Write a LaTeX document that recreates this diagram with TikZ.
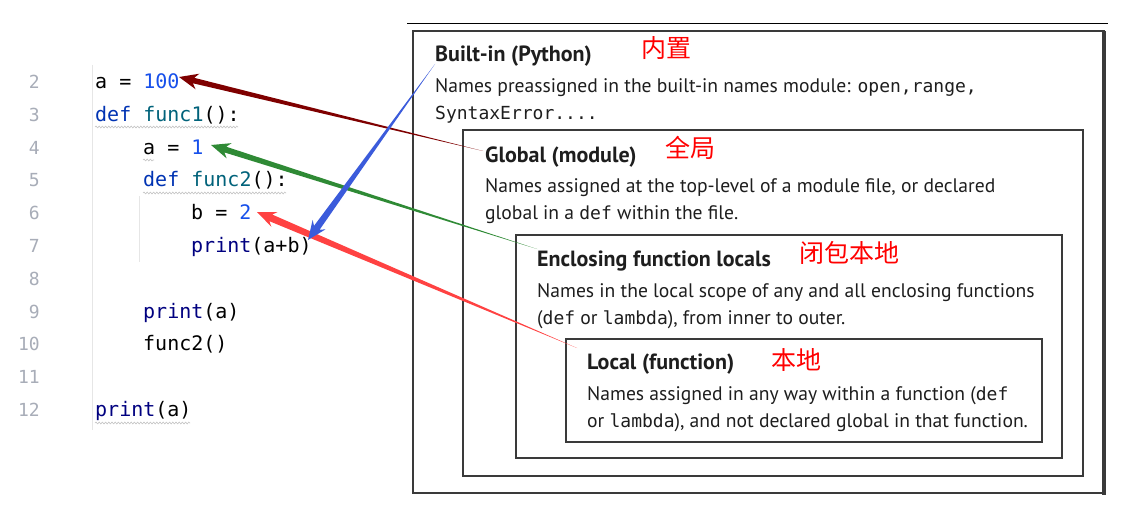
\documentclass[tikz,border=0pt]{standalone}
\usepackage{fontspec}
\setmainfont{PT Sans}
\newfontfamily\codefont{DejaVu Sans Mono}
\newfontfamily\cjk{Noto Sans CJK SC}
\usetikzlibrary{calc,decorations.pathmorphing}
\definecolor{kwnavy}{HTML}{0033B3}
\definecolor{fnteal}{HTML}{00627A}
\definecolor{numblue}{HTML}{1750EB}
\definecolor{prnavy}{HTML}{000080}
\definecolor{lngray}{HTML}{A8ADB8}
\definecolor{guidegray}{HTML}{E6E6E6}
\definecolor{wavegray}{HTML}{C4C4C4}
\definecolor{boxgray}{HTML}{3A3A3A}
\definecolor{txtgray}{HTML}{1E1E1E}
\definecolor{arrbuilt}{HTML}{3B5BDB}
\definecolor{arrglob}{HTML}{7F0000}
\definecolor{arrencl}{HTML}{2F8A35}
\definecolor{arrloc}{HTML}{FF4242}
\newcommand{\pyk}[1]{\textcolor{kwnavy}{#1}}
\newcommand{\pyf}[1]{\textcolor{fnteal}{#1}}
\newcommand{\pyn}[1]{\textcolor{numblue}{#1}}
\newcommand{\pyb}[1]{\textcolor{prnavy}{#1}}
\newcommand{\tw}[1]{{\codefont\fontsize{18}{18}\selectfont #1}}
% tapered arrow: colour, tail, tip, half width of shaft at the head
\newcommand{\scopearrow}[4]{%
  \coordinate (hb) at ($(#3)!15pt!(#2)$);
  \coordinate (wb) at ($(#3)!19pt!(#2)$);
  \fill[#1] (#2) -- ($(hb)!#4!-90:(#2)$) -- ($(wb)!8pt!-90:(#2)$) -- (#3)
    -- ($(wb)!8pt!90:(#2)$) -- ($(hb)!#4!90:(#2)$) -- cycle;
}
\tikzset{
  x=1pt,y=-1pt,
  lnum/.style={anchor=mid east,inner sep=0pt,text=lngray,
    font=\codefont\fontsize{18}{18}\selectfont},
  codeln/.style={anchor=mid west,inner sep=0pt,
    font=\codefont\fontsize{20}{20}\selectfont},
  squiggle/.style={draw=wavegray,line width=0.6pt,decorate,
    decoration={snake,segment length=3.2pt,amplitude=0.9pt}},
  guide/.style={draw=guidegray,line width=1pt},
  scopebox/.style={draw=boxgray,line width=1.5pt},
  scopetitle/.style={anchor=base west,inner sep=0pt,text=txtgray,
    font=\bfseries\fontsize{22}{22}\selectfont},
  scopetext/.style={anchor=base west,inner sep=0pt,text=txtgray,
    font=\fontsize{19.6}{19.6}\selectfont},
  cnlabel/.style={inner sep=0pt,text=red,font=\cjk\fontsize{25}{25}\selectfont},
}
\begin{document}
\begin{tikzpicture}
  \fill[white] (0,0) rectangle (1146,516);
  \useasboundingbox (0,0) rectangle (1146,516);

  % editor
  \draw[guide] (92,65) -- (92,430);
  \draw[guide] (139,196) -- (139,262);
  \foreach \n in {2,...,12}
    \node[lnum] (ln\n) at (40,{86+(\n-2)*32.8}) {\n};
  \node[codeln] (c2) at (95,86) {a = \pyn{100}};
  \node[codeln] (c3) at (95,118.8) {\pyk{def} \pyf{func1}():};
  \node[codeln] (c4) at (143,151.6) {a = \pyn{1}};
  \node[codeln] (c5) at (143,184.4) {\pyk{def} \pyf{func2}():};
  \node[codeln] (c6) at (191,217.2) {b = \pyn{2}};
  \node[codeln] (c7) at (191,250) {\pyb{print}(a+b)};
  \node[codeln] (c9) at (143,315.6) {\pyb{print}(a)};
  \node[codeln] (c10) at (143,348.4) {func2()};
  \node[codeln] (c12) at (95,414) {\pyb{print}(a)};
  \draw[squiggle] (95,127) -- (238,127);
  \draw[squiggle] (143,160) -- (154,160);
  \draw[squiggle] (143,193) -- (286,193);
  \draw[squiggle] (95,423) -- (190,423);

  % scopes
  \draw[black,line width=1pt] (407,24) -- (1108,24);
  \draw[scopebox] (413,31) rectangle (1104,493);
  \draw[boxgray,line width=4pt] (1104,31) -- (1104,495);
  \draw[boxgray,line width=2.5pt] (413,493) -- (1106,493);
  \draw[scopebox] (463,130) rectangle (1083,476);
  \draw[scopebox] (516,235) rectangle (1062,458);
  \draw[scopebox] (566,339) rectangle (1042,442);

  \node[scopetitle] (tbuilt) at (435,62) {Built-in (Python)};
  \node[scopetext] (dbuilt1) at (435,93)
    {Names preassigned in the built-in names module: \tw{open,range,}};
  \node[scopetext] (dbuilt2) at (435,120) {\tw{SyntaxError....}};
  \node[cnlabel] (zbuilt) at (666,48) {内置};

  \node[scopetitle] (tglob) at (485,163) {Global (module)};
  \node[scopetext] (dglob1) at (485,193)
    {Names assigned at the top-level of a module file, or declared};
  \node[scopetext] (dglob2) at (485,219) {global in a \tw{def} within the file.};
  \node[cnlabel] (zglob) at (690,148) {全局};

  \node[scopetitle] (tencl) at (537,266) {Enclosing function locals};
  \node[scopetext] (dencl1) at (537,297)
    {Names in the local scope of any and all enclosing functions};
  \node[scopetext] (dencl2) at (537,324)
    {(\tw{def} or \tw{lambda}), from inner to outer.};
  \node[cnlabel] (zencl) at (849,253) {闭包本地};

  \node[scopetitle] (tloc) at (587,369) {Local (function)};
  \node[scopetext] (dloc1) at (587,400)
    {Names assigned in any way within a function (\tw{def}};
  \node[scopetext] (dloc2) at (587,427)
    {or \tw{lambda}), and not declared global in that function.};
  \node[cnlabel] (zloc) at (796,360) {本地};

  % arrows from the scopes to the names
  \coordinate (fbuilt) at (435,64);
  \coordinate (fglob) at (483,151);
  \coordinate (fencl) at (537,249);
  \coordinate (floc) at (577,348);
  \coordinate (tipbuilt) at (308,240);
  \coordinate (tipglob) at (179,77);
  \coordinate (tipencl) at (211,145);
  \coordinate (tiploc) at (257,212);
  \scopearrow{arrglob}{fglob}{tipglob}{2.8pt}
  \scopearrow{arrencl}{fencl}{tipencl}{3pt}
  \scopearrow{arrloc}{floc}{tiploc}{3.6pt}
  \scopearrow{arrbuilt}{fbuilt}{tipbuilt}{3.4pt}
\end{tikzpicture}
\end{document}
